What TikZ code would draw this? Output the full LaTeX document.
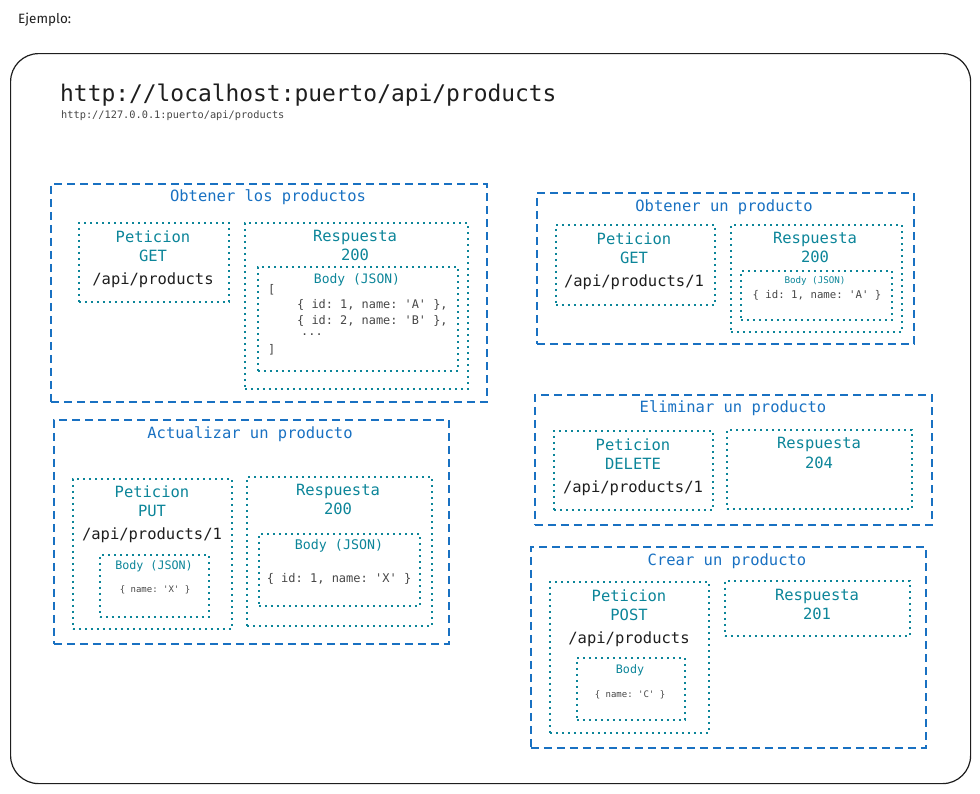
\documentclass[tikz,border=0pt]{standalone}
\usepackage{fontspec}
\setmonofont{DejaVu Sans Mono}
\renewcommand*\familydefault{\ttdefault}
\newfontfamily\hand{Fira Sans}
\definecolor{eblue}{RGB}{25,113,194}
\definecolor{ecyan}{RGB}{12,133,153}
\definecolor{edark}{RGB}{30,30,30}
\definecolor{egray}{RGB}{70,70,70}

\begin{document}
\begin{tikzpicture}[x=1pt,y=-1pt,
    marco/.style={draw=edark,line width=1.2pt,rounded corners=28pt,anchor=north west,inner sep=0pt},
    grupo/.style={draw=eblue,line width=1.6pt,dash pattern=on 8pt off 5pt,anchor=north west,inner sep=0pt},
    caja/.style={draw=ecyan,line width=1.6pt,dash pattern=on 1.8pt off 4.2pt,anchor=north west,inner sep=0pt},
    titulo/.style={text=eblue,font=\fontsize{15.5}{18}\selectfont,inner sep=0pt},
    etiqueta/.style={text=ecyan,font=\fontsize{15.5}{18}\selectfont,inner sep=0pt},
    ruta/.style={text=edark,font=\fontsize{15.5}{18}\selectfont,inner sep=0pt},
    cuerpo/.style={text=ecyan,font=\fontsize{#1}{14}\selectfont,inner sep=0pt},
    codigo/.style={text=egray,font=\fontsize{#1}{14}\selectfont,inner sep=0pt}
  ]

  \useasboundingbox (0,0) rectangle (980,793);

  % encabezado
  \node[font=\hand\fontsize{13.5}{15}\selectfont,text=edark,anchor=west,inner sep=0pt] (ejemplo) at (18,20) {Ejemplo:};
  \node[marco,minimum width=960pt,minimum height=730pt] (marco) at (10,53) {};
  \node[font=\fontsize{22.9}{26}\selectfont,text=edark,anchor=west,inner sep=0pt] (url) at (60,95) {http://localhost:puerto/api/products};
  \node[font=\fontsize{10.3}{12}\selectfont,text=egray,anchor=west,inner sep=0pt] (ip) at (61,116) {http://127.0.0.1:puerto/api/products};

  % obtener los productos
  \node[grupo,minimum width=436pt,minimum height=218pt] (todos) at (50,183) {};
  \node[titulo] (todosT) at (268,197) {Obtener los productos};
  \node[caja,minimum width=150pt,minimum height=79pt] (todosPet) at (78,222) {};
  \node[etiqueta] (todosPetT) at (153,237) {Peticion};
  \node[etiqueta] (todosMet) at (153,256) {GET};
  \node[ruta] (todosRuta) at (153,280) {/api/products};
  \node[caja,minimum width=223pt,minimum height=166pt] (todosRes) at (244,222) {};
  \node[etiqueta] (todosResT) at (355,237) {Respuesta};
  \node[etiqueta] (todosCod) at (355,255) {200};
  \node[caja,minimum width=200pt,minimum height=104pt] (todosBody) at (257,266) {};
  \node[cuerpo=13] (todosBodyT) at (357,280) {Body (JSON)};
  \node[codigo=11.9,anchor=west] (todosJ1) at (268,290) {[};
  \node[codigo=11.9,anchor=west] (todosJ2) at (297,305) {\{ id: 1, name: 'A' \},};
  \node[codigo=11.9,anchor=west] (todosJ3) at (297,321) {\{ id: 2, name: 'B' \},};
  \node[codigo=11.9,anchor=west] (todosJ4) at (301,335) {...};
  \node[codigo=11.9,anchor=west] (todosJ5) at (268,350) {]};

  % obtener un producto
  \node[grupo,minimum width=377pt,minimum height=151pt] (uno) at (536,192) {};
  \node[titulo] (unoT) at (724,207) {Obtener un producto};
  \node[caja,minimum width=159pt,minimum height=80pt] (unoPet) at (555,224) {};
  \node[etiqueta] (unoPetT) at (634,239) {Peticion};
  \node[etiqueta] (unoMet) at (634,258) {GET};
  \node[ruta] (unoRuta) at (634,282) {/api/products/1};
  \node[caja,minimum width=171pt,minimum height=107pt] (unoRes) at (730,224) {};
  \node[etiqueta] (unoResT) at (815,239) {Respuesta};
  \node[etiqueta] (unoCod) at (815,257) {200};
  \node[caja,minimum width=151pt,minimum height=49pt] (unoBody) at (740,270) {};
  \node[cuerpo=9.2] (unoBodyT) at (815,281) {Body (JSON)};
  \node[codigo=10.7] (unoJ) at (817,295) {\{ id: 1, name: 'A' \}};

  % actualizar un producto
  \node[grupo,minimum width=395pt,minimum height=224pt] (act) at (53,419) {};
  \node[titulo] (actT) at (250,434) {Actualizar un producto};
  \node[caja,minimum width=159pt,minimum height=150pt] (actPet) at (72,478) {};
  \node[etiqueta] (actPetT) at (152,492) {Peticion};
  \node[etiqueta] (actMet) at (152,511) {PUT};
  \node[ruta] (actRuta) at (152,535) {/api/products/1};
  \node[caja,minimum width=109pt,minimum height=62pt] (actPetBody) at (99,554) {};
  \node[cuerpo=11.7] (actPetBodyT) at (154,566) {Body (JSON)};
  \node[codigo=9] (actPetJ) at (155,590) {\{ name: 'X' \}};
  \node[caja,minimum width=185pt,minimum height=149pt] (actRes) at (246,476) {};
  \node[etiqueta] (actResT) at (338,491) {Respuesta};
  \node[etiqueta] (actCod) at (338,509) {200};
  \node[caja,minimum width=161pt,minimum height=72pt] (actBody) at (258,533) {};
  \node[cuerpo=13.3] (actBodyT) at (339,546) {Body (JSON)};
  \node[codigo=12] (actJ) at (339,579) {\{ id: 1, name: 'X' \}};

  % eliminar un producto
  \node[grupo,minimum width=397pt,minimum height=130pt] (elim) at (534,394) {};
  \node[titulo] (elimT) at (733,408) {Eliminar un producto};
  \node[caja,minimum width=159pt,minimum height=79pt] (elimPet) at (553,430) {};
  \node[etiqueta] (elimPetT) at (633,445) {Peticion};
  \node[etiqueta] (elimMet) at (633,464) {DELETE};
  \node[ruta] (elimRuta) at (633,488) {/api/products/1};
  \node[caja,minimum width=185pt,minimum height=79pt] (elimRes) at (726,429) {};
  \node[etiqueta] (elimResT) at (819,444) {Respuesta};
  \node[etiqueta] (elimCod) at (819,463) {204};

  % crear un producto
  \node[grupo,minimum width=395pt,minimum height=201pt] (crear) at (530,546) {};
  \node[titulo] (crearT) at (727,561) {Crear un producto};
  \node[caja,minimum width=159pt,minimum height=151pt] (crearPet) at (549,581) {};
  \node[etiqueta] (crearPetT) at (629,596) {Peticion};
  \node[etiqueta] (crearMet) at (629,615) {POST};
  \node[ruta] (crearRuta) at (629,639) {/api/products};
  \node[caja,minimum width=108pt,minimum height=62pt] (crearBody) at (576,657) {};
  \node[cuerpo=11.7] (crearBodyT) at (630,670) {Body};
  \node[codigo=9] (crearJ) at (630,695) {\{ name: 'C' \}};
  \node[caja,minimum width=185pt,minimum height=55pt] (crearRes) at (724,580) {};
  \node[etiqueta] (crearResT) at (817,596) {Respuesta};
  \node[etiqueta] (crearCod) at (817,614) {201};

\end{tikzpicture}
\end{document}
